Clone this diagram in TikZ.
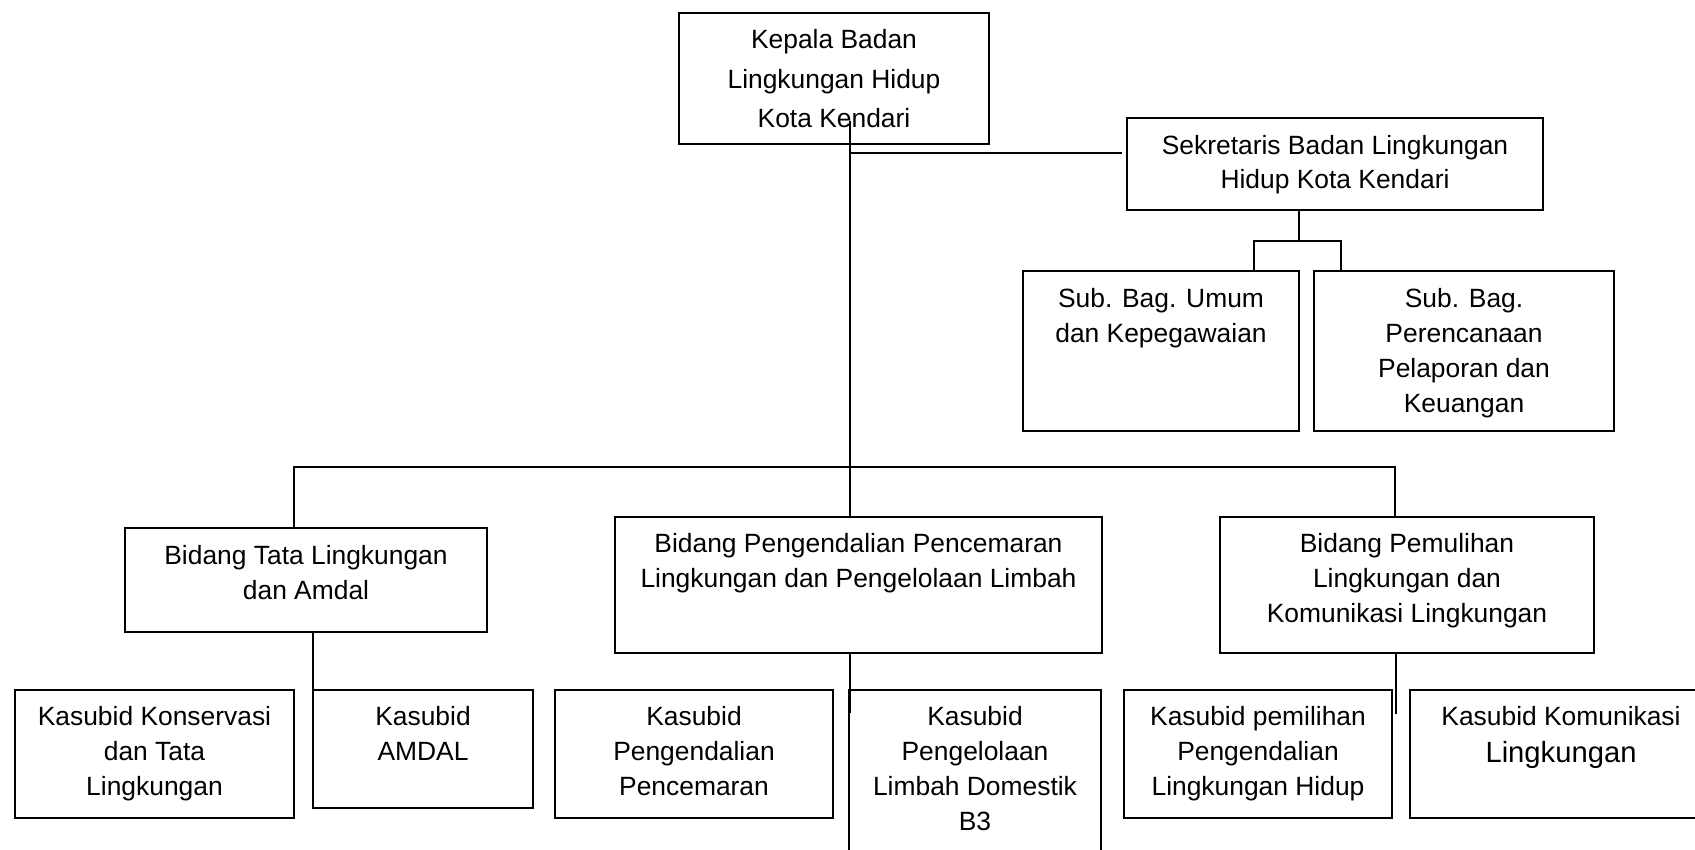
\documentclass[tikz,border=0pt]{standalone}
\usepackage{fontspec}
\setmainfont{Liberation Sans}
\newdimen\pxu \pxu=0.5pt
% #1 width(px) #2 height(px) #3 first baseline(px) #4 text
\newcommand\bxc[4]{\parbox[c][#2\pxu][t]{#1\pxu}{\centering\rule{0pt}{#3\pxu}#4\par}}
\tikzset{
  obox/.style={draw, line width=0.9pt, inner sep=0pt, font=\fontsize{13.2}{17.5}\selectfont},
  conn/.style={line width=0.9pt}
}
\begin{document}
\begin{tikzpicture}[x=0.5pt, y=-0.5pt]
\clip (0,0) rectangle (1695,850);
% top level
\node[obox, font=\fontsize{13.2}{19.75}\selectfont] (kepala) at (834,78.5)
  {\bxc{310}{131}{36}{Kepala Badan\\Lingkungan Hidup\\Kota Kendari}};
\node[obox] (sek) at (1335,164)
  {\bxc{416}{92}{36}{Sekretaris Badan Lingkungan\\Hidup Kota Kendari}};
\node[obox] (umum) at (1161,351)
  {\bxc{276}{160}{36}{Sub. Bag. Umum\\dan Kepegawaian}};
\node[obox] (ren) at (1464,351)
  {\bxc{300}{160}{36}{Sub. Bag.\\Perencanaan\\Pelaporan dan\\Keuangan}};
% bidang
\node[obox] (bt) at (306,580)
  {\bxc{362}{104}{36}{Bidang Tata Lingkungan\\dan Amdal}};
\node[obox] (bp) at (858.5,585)
  {\bxc{487}{136}{35}{Bidang Pengendalian Pencemaran\\Lingkungan dan Pengelolaan Limbah}};
\node[obox] (bpm) at (1407,585)
  {\bxc{374}{136}{35}{Bidang Pemulihan\\Lingkungan dan\\Komunikasi Lingkungan}};
% kasubid
\node[obox] (kons) at (154.5,754)
  {\bxc{279}{128}{35}{Kasubid Konservasi\\dan Tata\\Lingkungan}};
\node[obox] (amdal) at (423,749)
  {\bxc{220}{118}{35}{Kasubid\\AMDAL}};
\node[obox] (kpp) at (694,754)
  {\bxc{278}{128}{35}{Kasubid\\Pengendalian\\Pencemaran}};
\node[obox] (klim) at (975,790)
  {\bxc{252}{200}{35}{Kasubid\\Pengelolaan\\Limbah Domestik\\B3}};
\node[obox] (kpl) at (1258,754)
  {\bxc{268}{128}{35}{Kasubid pemilihan\\Pengendalian\\Lingkungan Hidup}};
\node[obox] (kkom) at (1561,754)
  {\bxc{302}{128}{35}{Kasubid Komunikasi\\{\fontsize{14.6}{18.5}\selectfont Lingkungan\par}}};
% connectors
\coordinate (ka) at (850,121);
\coordinate (kj) at (850,153);
\draw[conn] (ka) -- (ka |- bp.north);
\draw[conn] (kj) -- ([xshift=-2pt]sek.west |- kj);
\coordinate (sj) at (1299,241);
\coordinate (sa) at (1254,241);
\coordinate (sb) at (1341,241);
\draw[conn] (sj |- sek.south) -- (sj);
\draw[conn] (sa |- umum.north) -- (sa) -- (sb) -- (sb |- ren.north);
\coordinate (ml) at (294,467);
\coordinate (mr) at (1395,467);
\draw[conn] (ml |- bt.north) -- (ml) -- (mr) -- (mr |- bpm.north);
\coordinate (t1) at (313,713);
\coordinate (p1) at (850,713);
\coordinate (m1) at (1396,714);
\draw[conn] (t1 |- bt.south) -- (t1);
\draw[conn] (p1 |- bp.south) -- (p1);
\draw[conn] (m1 |- bpm.south) -- (m1);
\end{tikzpicture}
\end{document}
